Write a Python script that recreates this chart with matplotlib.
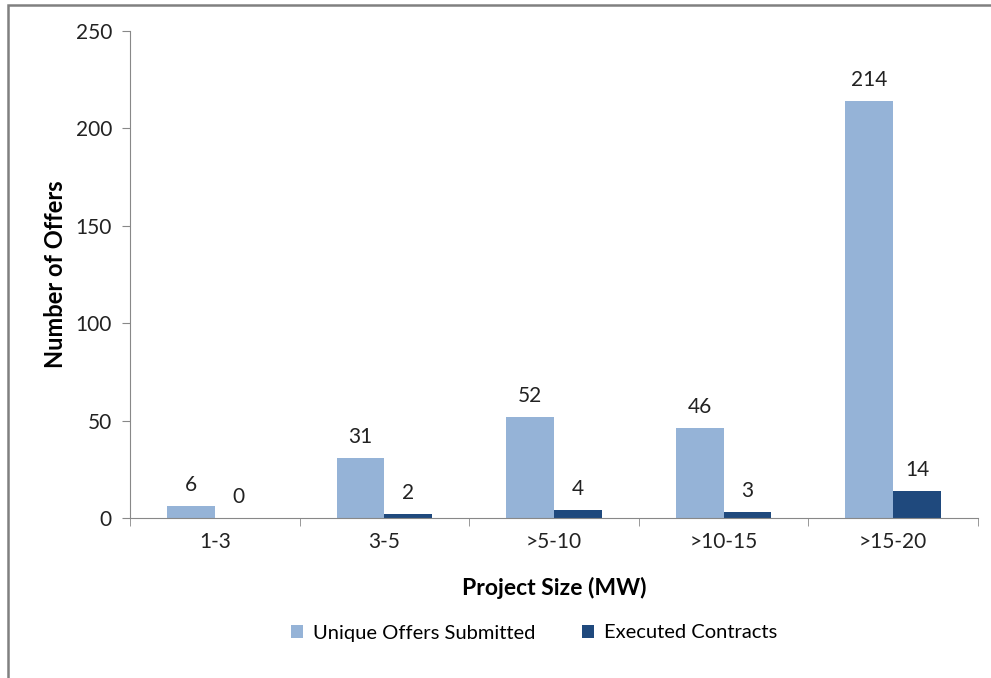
import matplotlib.pyplot as plt
import numpy as np
from matplotlib.patches import Rectangle

sizes = ["1-3", "3-5", ">5-10", ">10-15", ">15-20"]
offers = [6, 31, 52, 46, 214]
contracts = [0, 2, 4, 3, 14]

light = "#95B3D7"
dark = "#1F497D"
plt.rcParams['font.family'] = ['Lato', 'DejaVu Sans']

fig = plt.figure(figsize=(9.91, 6.78), dpi=100)
ax = fig.add_axes([130 / 991, 160 / 678, 848 / 991, 487 / 678])

x = np.arange(len(sizes))
w = 0.282
b1 = ax.bar(x - w / 2, offers, w, color=light, label="Unique Offers Submitted")
b2 = ax.bar(x + w / 2, contracts, w, color=dark, label="Executed Contracts")

for bars, vals in ((b1, offers), (b2, contracts)):
    for r, v in zip(bars, vals):
        ax.annotate(str(v), (r.get_x() + r.get_width() / 2, v),
                    xytext=(0, 8), textcoords="offset points",
                    ha="center", va="bottom", fontsize=15, color="#222222")

ax.set_xlim(-0.5, len(sizes) - 0.5)
ax.set_ylim(0, 250)
ax.set_yticks(range(0, 251, 50))
ax.set_xticks(x)
ax.set_xticklabels(sizes)
ax.set_xticks(np.arange(-0.5, len(sizes), 1), minor=True)
ax.tick_params(axis="x", which="major", length=0, pad=10, labelsize=15, labelcolor="#222222")
ax.tick_params(axis="x", which="minor", length=6, color="#888888", direction="out")
ax.tick_params(axis="y", length=6, color="#888888", labelsize=15, pad=7, labelcolor="#222222")

for side in ("top", "right"):
    ax.spines[side].set_visible(False)
for side in ("left", "bottom"):
    ax.spines[side].set_color("#888888")

ax.set_xlabel("Project Size (MW)", fontsize=16.5, fontweight="bold", labelpad=18)
ax.set_ylabel("Number of Offers", fontsize=17, fontweight="bold", labelpad=6)

fig.legend(loc="center", bbox_to_anchor=(534 / 991, 45 / 678), ncol=2,
           frameon=False, fontsize=14.5, handlelength=0.6, handleheight=0.6,
           columnspacing=2.3, handletextpad=0.5)

# outer frame around the chart
fig.patches.append(Rectangle((8 / 991, -0.1), 1.2, (673 / 678) + 0.1,
                             transform=fig.transFigure, fill=False,
                             edgecolor="#808080", linewidth=1.8))

fig.savefig("out.png", dpi=100)
